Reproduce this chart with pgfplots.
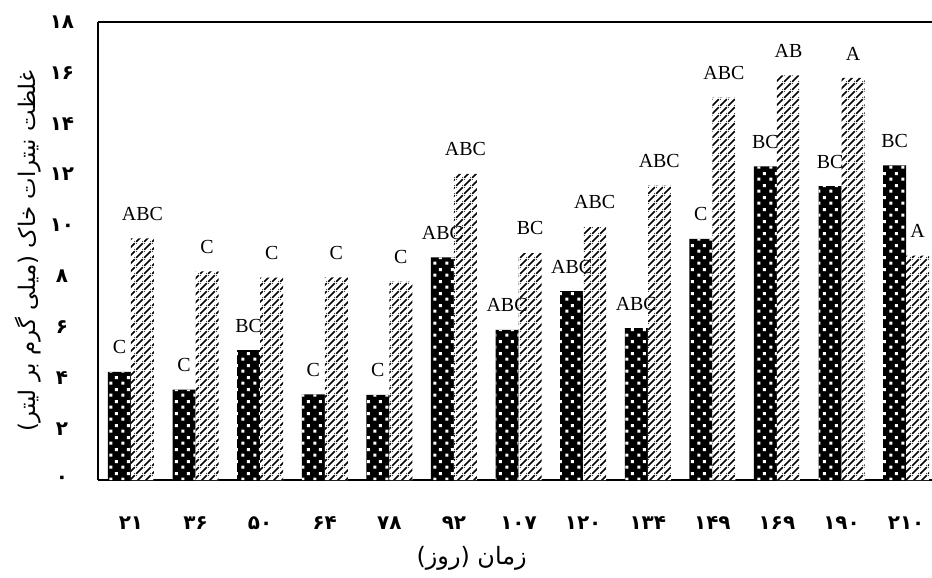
\documentclass[border=0pt]{standalone}
\usepackage{fontspec}
\setmainfont{Liberation Serif}
\newfontfamily\fa[Script=Arabic]{DejaVu Sans}
\TeXXeTstate=1
\usepackage{pgfplots}
\pgfplotsset{compat=1.18}
\usetikzlibrary{patterns}

\pgfdeclarepatternformonly{wdots}{\pgfqpoint{0bp}{0bp}}{\pgfqpoint{6bp}{6bp}}{\pgfqpoint{6bp}{6bp}}{%
  \pgfpathrectangle{\pgfqpoint{0.7bp}{0.7bp}}{\pgfqpoint{1.6bp}{1.6bp}}%
  \pgfpathrectangle{\pgfqpoint{3.7bp}{3.7bp}}{\pgfqpoint{1.6bp}{1.6bp}}%
  \pgfusepath{fill}}
\pgfdeclarepatternformonly{diagl}{\pgfqpoint{0bp}{0bp}}{\pgfqpoint{4bp}{4bp}}{\pgfqpoint{4bp}{4bp}}{%
  \pgfpathmoveto{\pgfqpoint{0bp}{0bp}}%
  \pgfpathlineto{\pgfqpoint{0.65bp}{0bp}}%
  \pgfpathlineto{\pgfqpoint{4bp}{3.35bp}}%
  \pgfpathlineto{\pgfqpoint{4bp}{4bp}}%
  \pgfpathlineto{\pgfqpoint{3.35bp}{4bp}}%
  \pgfpathlineto{\pgfqpoint{0bp}{0.65bp}}%
  \pgfpathclose
  \pgfpathmoveto{\pgfqpoint{3.35bp}{0bp}}%
  \pgfpathlineto{\pgfqpoint{4bp}{0bp}}%
  \pgfpathlineto{\pgfqpoint{4bp}{0.65bp}}%
  \pgfpathclose
  \pgfpathmoveto{\pgfqpoint{0bp}{3.35bp}}%
  \pgfpathlineto{\pgfqpoint{0.65bp}{4bp}}%
  \pgfpathlineto{\pgfqpoint{0bp}{4bp}}%
  \pgfpathclose
  \pgfusepath{fill}}

\begin{document}
\begin{tikzpicture}
\begin{axis}[
  scale only axis, width=417bp, height=229bp,
  xmin=-0.51, xmax=12.40, ymin=0, ymax=18,
  axis x line=box, axis y line=left,
  axis line style={-, line width=0.8bp},
  major tick length=0pt,
  ybar, bar width=0.356,
  xtick={0,...,12},
  xticklabels={۲۱,۳۶,۵۰,۶۴,۷۸,۹۲,۱۰۷,۱۲۰,۱۳۴,۱۴۹,۱۶۹,۱۹۰,۲۱۰},
  ytick={0,2,...,18},
  yticklabels={۰,۲,۴,۶,۸,۱۰,۱۲,۱۴,۱۶,۱۸},
  tick label style={font=\fa\bfseries\fontsize{10}{10}\selectfont},
  x tick label style={anchor=center, yshift=-21.5bp},
  y tick label style={anchor=center, xshift=-18bp},
  xlabel={\fa\fontsize{12}{14}\selectfont\beginR زمان (روز)\endR},
  xlabel style={at={(axis description cs:0.448,-0.1703)}, anchor=center},
  ylabel={\fa\fontsize{11.5}{14}\selectfont\beginR غلظت نیترات خاک (میلی گرم بر لیتر)\endR},
  ylabel style={at={(axis description cs:-0.084,0.5)}, anchor=center},
  nodes near coords,
  point meta=explicit symbolic,
  every node near coord/.append style={font=\fontsize{10}{10}\selectfont, yshift=5.4bp},
]
\addplot[draw=none, bar shift=-0.178, preaction={fill=black}, pattern=wdots, pattern color=white]
coordinates {(0,4.25) [C] (1,3.55) [C] (2,5.1) [BC] (3,3.37) [C] (4,3.35) [C]
 (5,8.75) [ABC] (6,5.9) [ABC] (7,7.42) [ABC] (8,5.97) [ABC] (9,9.48) [C]
 (10,12.33) [BC] (11,11.55) [BC] (12,12.37) [BC]};
\addplot[draw=none, bar shift=0.178, preaction={fill=white}, pattern=diagl, pattern color=black]
coordinates {(0,9.5) [ABC] (1,8.2) [C] (2,7.95) [C] (3,7.96) [C] (4,7.8) [C]
 (5,12.03) [ABC] (6,8.92) [BC] (7,9.95) [ABC] (8,11.57) [ABC] (9,15.03) [ABC]
 (10,15.9) [AB] (11,15.8) [A] (12,8.82) [A]};
\coordinate (bl) at (rel axis cs:0,0);
\coordinate (tr) at (rel axis cs:1,1);
\end{axis}
\pgfresetboundingbox
\path[use as bounding box] ([xshift=-49bp,yshift=-49bp]bl) rectangle ([yshift=11bp]tr);
\end{tikzpicture}
\end{document}
